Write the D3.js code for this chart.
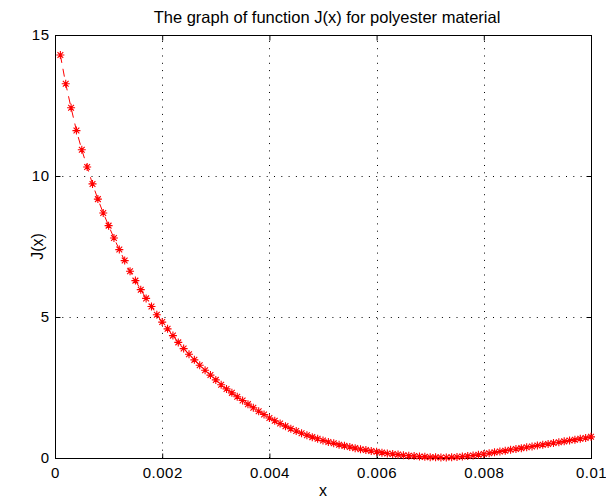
<!DOCTYPE html>
<html>
<head>
<meta charset="utf-8">
<script src="https://cdn.jsdelivr.net/npm/d3@7"></script>
<style>
  html, body { margin: 0; padding: 0; background: #fff; }
  svg { display: block; }
  text { font-family: "Liberation Sans", Arial, Helvetica, sans-serif; fill: #000; }
</style>
</head>
<body>
<svg id="chart" width="606" height="499"></svg>
<script>
// ---- data ----
const titleText = "The graph of function J(x) for polyester material";
const xLabelText = "x";
const yLabelText = "J(x)";

const xValues = [
  0.0001,0.0002,0.0003,0.0004,0.0005,0.0006,0.0007,0.0008,0.0009,0.0010,
  0.0011,0.0012,0.0013,0.0014,0.0015,0.0016,0.0017,0.0018,0.0019,0.0020,
  0.0021,0.0022,0.0023,0.0024,0.0025,0.0026,0.0027,0.0028,0.0029,0.0030,
  0.0031,0.0032,0.0033,0.0034,0.0035,0.0036,0.0037,0.0038,0.0039,0.0040,
  0.0041,0.0042,0.0043,0.0044,0.0045,0.0046,0.0047,0.0048,0.0049,0.0050,
  0.0051,0.0052,0.0053,0.0054,0.0055,0.0056,0.0057,0.0058,0.0059,0.0060,
  0.0061,0.0062,0.0063,0.0064,0.0065,0.0066,0.0067,0.0068,0.0069,0.0070,
  0.0071,0.0072,0.0073,0.0074,0.0075,0.0076,0.0077,0.0078,0.0079,0.0080,
  0.0081,0.0082,0.0083,0.0084,0.0085,0.0086,0.0087,0.0088,0.0089,0.0090,
  0.0091,0.0092,0.0093,0.0094,0.0095,0.0096,0.0097,0.0098,0.0099,0.0100
];
const jValues = [
  14.29,13.27,12.42,11.61,10.93,10.32,9.72,9.18,8.69,8.24,
  7.80,7.39,7.00,6.62,6.29,5.97,5.66,5.37,5.08,4.82,
  4.58,4.34,4.10,3.88,3.68,3.48,3.29,3.11,2.94,2.77,
  2.60,2.45,2.31,2.17,2.04,1.91,1.78,1.66,1.54,1.42,
  1.32,1.22,1.13,1.04,0.96,0.88,0.81,0.74,0.68,0.62,
  0.57,0.52,0.47,0.43,0.39,0.35,0.31,0.28,0.25,0.22,
  0.19,0.16,0.14,0.12,0.10,0.08,0.07,0.05,0.04,0.03,
  0.03,0.02,0.02,0.025,0.035,0.05,0.07,0.09,0.115,0.14,
  0.17,0.20,0.23,0.26,0.29,0.32,0.35,0.38,0.41,0.44,
  0.47,0.50,0.53,0.56,0.59,0.62,0.65,0.68,0.71,0.75
];
const xTicks = [0, 0.002, 0.004, 0.006, 0.008, 0.01];
const xTickLabels = ["0", "0.002", "0.004", "0.006", "0.008", "0.01"];
const yTicks = [0, 5, 10, 15];
const yTickLabels = ["0", "5", "10", "15"];
const xDomain = [0, 0.01];
const yDomain = [0, 15];

// ---- layout ----
const L = 55, R = 591, T = 35, B = 458;
const svg = d3.select("#chart");
const x = d3.scaleLinear().domain(xDomain).range([L, R]);
const y = d3.scaleLinear().domain(yDomain).range([B, T]);
const tickLen = 5;

// grid (dotted)
const grid = svg.append("g").attr("stroke", "#000").attr("stroke-width", 1)
  .attr("stroke-dasharray", "1,6.3");
xTicks.filter(v => v > xDomain[0] && v < xDomain[1]).forEach(v => {
  grid.append("line").attr("x1", Math.round(x(v)) + 0.5).attr("x2", Math.round(x(v)) + 0.5)
    .attr("y1", B).attr("y2", T);
});
yTicks.filter(v => v > yDomain[0] && v < yDomain[1]).forEach(v => {
  grid.append("line").attr("y1", Math.round(y(v)) + 0.5).attr("y2", Math.round(y(v)) + 0.5)
    .attr("x1", L).attr("x2", R);
});

// axes via d3 (inside ticks)
const xAxisB = d3.axisBottom(x).tickValues(xTicks).tickFormat((d, i) => xTickLabels[i])
  .tickSizeInner(-tickLen).tickSizeOuter(0).tickPadding(9);
const xAxisT = d3.axisTop(x).tickValues(xTicks).tickFormat("")
  .tickSizeInner(-tickLen).tickSizeOuter(0);
const yAxisL = d3.axisLeft(y).tickValues(yTicks).tickFormat((d, i) => yTickLabels[i])
  .tickSizeInner(-tickLen).tickSizeOuter(0).tickPadding(6);
const yAxisR = d3.axisRight(y).tickValues(yTicks).tickFormat("")
  .tickSizeInner(-tickLen).tickSizeOuter(0);

function style(g) {
  g.select(".domain").remove();
  g.selectAll(".tick line").attr("stroke", "#000").attr("stroke-width", 1);
  g.selectAll(".tick text").attr("font-size", 15).attr("fill", "#000")
    .attr("letter-spacing", 0.5)
    .style("font-family", "'Liberation Sans', Arial, sans-serif");
}
svg.append("g").attr("transform", `translate(0,${B + 0.5})`).call(xAxisB).call(style);
svg.append("g").attr("transform", `translate(0,${T + 0.5})`).call(xAxisT).call(style);
svg.append("g").attr("transform", `translate(${L + 0.5},0)`).call(yAxisL).call(style);
svg.append("g").attr("transform", `translate(${R + 0.5},0)`).call(yAxisR).call(style);

// box
svg.append("rect").attr("x", L + 0.5).attr("y", T + 0.5).attr("width", R - L).attr("height", B - T)
  .attr("fill", "none").attr("stroke", "#000").attr("stroke-width", 1);

// data
const pts = xValues.map((v, i) => [v, jValues[i]]);
const line = d3.line().x(d => x(d[0])).y(d => y(d[1]));
svg.append("path").datum(pts).attr("d", line).attr("fill", "none")
  .attr("stroke", "#ff0000").attr("stroke-width", 1).attr("stroke-dasharray", "8,6");

const r = 4, rd = r * 0.72;
const star = `M${-r},0L${r},0M0,${-r}L0,${r}M${-rd},${-rd}L${rd},${rd}M${-rd},${rd}L${rd},${-rd}`;
svg.append("g").selectAll("path.m").data(pts).join("path")
  .attr("class", "m")
  .attr("transform", d => `translate(${x(d[0])},${y(d[1])})`)
  .attr("d", star).attr("fill", "none").attr("stroke", "#ff0000").attr("stroke-width", 1.1);

// labels
svg.append("text").attr("x", (L + R) / 2 + 4).attr("y", 23).attr("text-anchor", "middle")
  .attr("font-size", 16.5).text(titleText);
svg.append("text").attr("x", (L + R) / 2).attr("y", 496).attr("text-anchor", "middle")
  .attr("font-size", 16).text(xLabelText);
svg.append("text").attr("transform", `translate(43,${(T + B) / 2}) rotate(-90)`)
  .attr("text-anchor", "middle").attr("font-size", 16).text(yLabelText);
</script>
</body>
</html>
